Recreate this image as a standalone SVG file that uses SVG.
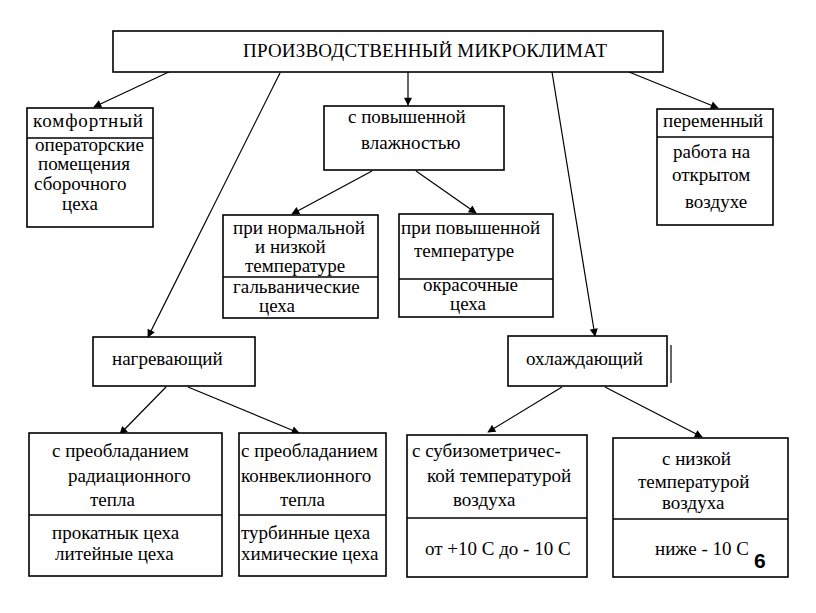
<svg xmlns="http://www.w3.org/2000/svg" width="816" height="613" viewBox="0 0 816 613">
<defs>
<style>
.b{fill:#fff;stroke:#000;stroke-width:1.6}
.d{stroke:#000;stroke-width:1.6}
.c{stroke:#000;stroke-width:1.2;fill:none}
.t{font-family:'Liberation Serif','Times New Roman',serif;font-size:19px;fill:#000}
.six{font-family:'Liberation Sans','DejaVu Sans',Arial,sans-serif;font-weight:bold;font-size:21px;fill:#000}
</style>
<marker id="ah" viewBox="0 0 10 10" refX="9" refY="5" markerWidth="10" markerHeight="8" markerUnits="userSpaceOnUse" orient="auto">
<path d="M0,0 L10,5 L0,10 z" fill="#000"/>
</marker>
<clipPath id="cp2"><rect x="239" y="433" width="147" height="143"/></clipPath>
</defs>
<rect width="816" height="613" fill="#fff"/>
<g id="connectors">
<line class="c" x1="173" y1="70" x2="94" y2="107" marker-end="url(#ah)"/>
<line class="c" x1="280" y1="73" x2="148" y2="337" marker-end="url(#ah)"/>
<line class="c" x1="408" y1="72" x2="408" y2="105" marker-end="url(#ah)"/>
<line class="c" x1="552" y1="72" x2="595" y2="336" marker-end="url(#ah)"/>
<line class="c" x1="629" y1="72" x2="718" y2="108" marker-end="url(#ah)"/>
<line class="c" x1="372" y1="171" x2="292" y2="214" marker-end="url(#ah)"/>
<line class="c" x1="416" y1="171" x2="476" y2="213" marker-end="url(#ah)"/>
<line class="c" x1="166" y1="387" x2="120" y2="434" marker-end="url(#ah)"/>
<line class="c" x1="188" y1="387" x2="299" y2="433" marker-end="url(#ah)"/>
<line class="c" x1="562" y1="387" x2="488" y2="432" marker-end="url(#ah)"/>
<line class="c" x1="605" y1="387" x2="702" y2="437" marker-end="url(#ah)"/>
</g>
<g class="t">
<g id="root">
<rect class="b" x="113" y="31" width="550" height="41"/>
<text x="243" y="57" textLength="364">ПРОИЗВОДСТВЕННЫЙ МИКРОКЛИМАТ</text>
</g>
<g id="comfort">
<rect class="b" x="27" y="108" width="126" height="119"/>
<line class="d" x1="27" y1="138" x2="153" y2="138"/>
<text x="33" y="127" textLength="110">комфортный</text>
<text x="35" y="151">операторские</text>
<text x="38" y="170">помещения</text>
<text x="34" y="190">сборочного</text>
<text x="62" y="210">цеха</text>
</g>
<g id="humid">
<rect class="b" x="324" y="106" width="180" height="64"/>
<text x="348" y="123">с повышенной</text>
<text x="361" y="149">влажностью</text>
</g>
<g id="variable">
<rect class="b" x="657" y="109" width="116" height="116"/>
<line class="d" x1="657" y1="137" x2="773" y2="137"/>
<text x="663" y="127">переменный</text>
<text x="673" y="158">работа на</text>
<text x="672" y="181">открытом</text>
<text x="685" y="208">воздухе</text>
</g>
<g id="normal">
<rect class="b" x="223" y="215" width="155" height="103"/>
<line class="d" x1="223" y1="277" x2="378" y2="277"/>
<text x="233" y="234">при нормальной</text>
<text x="255" y="253">и низкой</text>
<text x="245" y="272">температуре</text>
<text x="233" y="293">гальванические</text>
<text x="259" y="312">цеха</text>
</g>
<g id="hightemp">
<rect class="b" x="399" y="214" width="154" height="103"/>
<line class="d" x1="399" y1="279" x2="553" y2="279"/>
<text x="401" y="234">при повышенной</text>
<text x="414" y="257">температуре</text>
<text x="423" y="291">окрасочные</text>
<text x="450" y="310">цеха</text>
</g>
<g id="heating">
<rect class="b" x="93" y="337" width="162" height="49"/>
<text x="112" y="365">нагревающий</text>
</g>
<g id="cooling">
<rect class="b" x="508" y="336" width="159" height="50"/>
<line class="c" x1="671" y1="345" x2="671" y2="383"/>
<text x="526" y="365">охлаждающий</text>
</g>
<g id="radiation">
<rect class="b" x="29" y="433" width="193" height="143"/>
<line class="d" x1="29" y1="515" x2="222" y2="515"/>
<text x="52" y="457">с преобладанием</text>
<text x="68" y="482">радиационного</text>
<text x="90" y="506">тепла</text>
<text x="52" y="539">прокатнык цеха</text>
<text x="55" y="560">литейные цеха</text>
</g>
<g id="convection">
<rect class="b" x="239" y="433" width="147" height="143"/>
<line class="d" x1="239" y1="515" x2="386" y2="515"/>
<g clip-path="url(#cp2)">
<text x="241" y="457">с преобладанием</text>
<text x="241" y="482">конвеклионного</text>
<text x="280" y="506">тепла</text>
<text x="241" y="539">турбинные цеха</text>
<text x="241" y="560">химические цеха</text>
</g>
</g>
<g id="subiso">
<rect class="b" x="407" y="435" width="180" height="142"/>
<line class="d" x1="407" y1="518" x2="587" y2="518"/>
<text x="412" y="457">с субизометричес-</text>
<text x="427" y="482">кой температурой</text>
<text x="453" y="506">воздуха</text>
<text x="425" y="555">от +10 С до - 10 С</text>
</g>
<g id="lowtemp">
<rect class="b" x="613" y="438" width="175" height="139"/>
<line class="d" x1="613" y1="519" x2="788" y2="519"/>
<text x="662" y="465">с низкой</text>
<text x="638" y="488">температурой</text>
<text x="662" y="509">воздуха</text>
<text x="655" y="555">ниже - 10 С</text>
</g>
</g>
<text class="six" x="754" y="568">6</text>
</svg>
